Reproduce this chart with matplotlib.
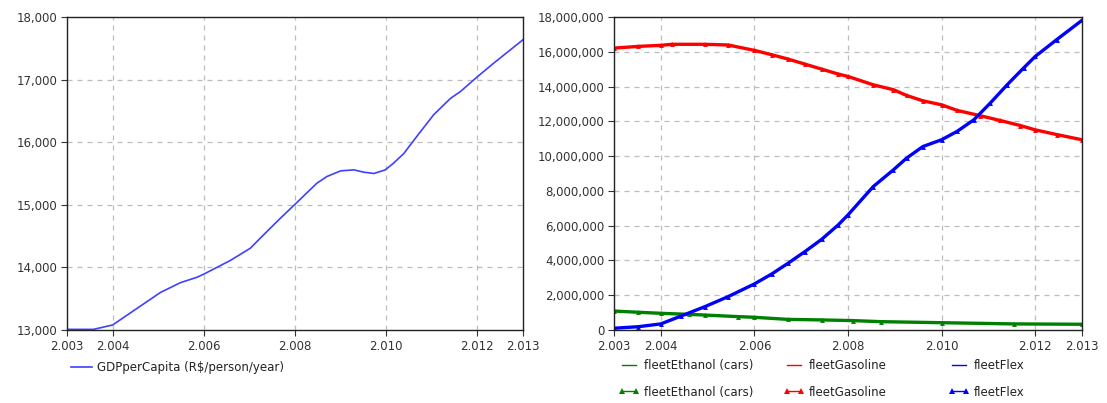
import matplotlib
matplotlib.use("Agg")
import matplotlib.pyplot as plt
from matplotlib.ticker import FuncFormatter
from matplotlib.lines import Line2D

# ---- data ----
gdp_years = [2003.0, 2003.58, 2004.0, 2005.05, 2005.49, 2005.85, 2006.01, 2006.58, 2007.02,
             2007.31, 2007.68, 2008.01, 2008.48, 2008.70, 2009.0, 2009.29, 2009.51, 2009.73,
             2009.98, 2010.16, 2010.38, 2010.71, 2011.04, 2011.41, 2011.63, 2011.99, 2012.36, 2013.0]
gdp_values = [13010, 13010, 13080, 13600, 13757, 13842, 13896, 14110, 14306,
              14519, 14786, 15015, 15345, 15452, 15542, 15558, 15521, 15500,
              15558, 15665, 15814, 16129, 16438, 16700, 16811, 17040, 17264, 17637]

gas_years = [2003.0, 2003.52, 2004.0, 2004.23, 2004.94, 2005.44, 2006.0, 2006.37, 2006.72,
             2007.08, 2007.44, 2007.79, 2008.0, 2008.54, 2008.97, 2009.25, 2009.6, 2010.0,
             2010.33, 2010.83, 2011.25, 2011.68, 2012.0, 2012.46, 2013.0]
gas_values = [16.21, 16.31, 16.37, 16.43, 16.43, 16.39, 16.08, 15.83, 15.58,
              15.29, 15.00, 14.72, 14.58, 14.10, 13.82, 13.49, 13.18, 12.95,
              12.63, 12.32, 12.05, 11.76, 11.51, 11.24, 10.94]

flex_years = [2003.0, 2003.52, 2004.0, 2004.44, 2004.94, 2005.44, 2006.0, 2006.37, 2006.72,
              2007.08, 2007.44, 2007.79, 2008.0, 2008.54, 2008.97, 2009.25, 2009.6, 2010.0,
              2010.33, 2010.69, 2011.04, 2011.4, 2011.75, 2012.0, 2012.46, 2013.0]
flex_values = [0.10, 0.19, 0.35, 0.81, 1.34, 1.92, 2.65, 3.22, 3.84,
               4.51, 5.22, 6.04, 6.62, 8.25, 9.21, 9.88, 10.55, 10.94,
               11.42, 12.09, 13.05, 14.10, 15.06, 15.73, 16.70, 17.81]

eth_years = [2003.0, 2003.52, 2004.0, 2004.6, 2004.94, 2005.65, 2006.0, 2006.72, 2007.44,
             2008.11, 2008.7, 2010.0, 2011.54, 2013.0]
eth_values = [1.09, 1.02, 0.96, 0.90, 0.86, 0.77, 0.73, 0.61, 0.58,
              0.54, 0.48, 0.42, 0.35, 0.33]

xticks = [2003, 2004, 2006, 2008, 2010, 2012, 2013]
xtick_labels = ['2.003', '2.004', '2.006', '2.008', '2.010', '2.012', '2.013']
gdp_yticks = [13000, 14000, 15000, 16000, 17000, 18000]
fleet_yticks = [0, 2, 4, 6, 8, 10, 12, 14, 16, 18]

plt.rcParams['font.family'] = ['DejaVu Sans']
FS = 8.5
TXT = '#333333'
GRID = '#bdbdbd'

fig = plt.figure(figsize=(11.07, 4.03), dpi=100)
W, H = 1107, 403
ax1 = fig.add_axes([67 / W, (H - 330) / H, (523 - 67) / W, (330 - 17) / H])
ax2 = fig.add_axes([614 / W, (H - 330) / H, (1082 - 614) / W, (330 - 17) / H])


def style(ax, yticks):
    ax.set_xlim(2003, 2013)
    ax.set_ylim(yticks[0], yticks[-1])
    ax.set_xticks(xticks)
    ax.set_xticklabels(xtick_labels)
    ax.set_yticks(yticks)
    ax.tick_params(labelsize=FS, labelcolor=TXT, length=4, width=0.8, color='#333333', pad=3)
    for s in ax.spines.values():
        s.set_color('#222222')
        s.set_linewidth(1.0)
    for x in xticks[1:-1]:
        ax.axvline(x, color=GRID, lw=0.9, ls=(0, (4, 4)), zorder=0)
    for y in yticks[1:-1]:
        ax.axhline(y, color=GRID, lw=0.9, ls=(0, (4, 4)), zorder=0)


style(ax1, gdp_yticks)
ax1.yaxis.set_major_formatter(FuncFormatter(lambda v, p: f"{v:,.0f}"))
gdp_line, = ax1.plot(gdp_years, gdp_values, color='#4040ff', lw=1.2)

style(ax2, fleet_yticks)
ax2.yaxis.set_major_formatter(FuncFormatter(lambda v, p: f"{v * 1e6:,.0f}"))

series = [
    ('fleetEthanol (cars)', eth_years, eth_values, '#008000'),
    ('fleetGasoline', gas_years, gas_values, '#ff0000'),
    ('fleetFlex', flex_years, flex_values, '#0000ff'),
]
for name, xs, ys, c in series:
    ax2.plot(xs, ys, color=c, lw=2.4, marker='^', ms=3.5, mew=0, solid_joinstyle='round')

fig.legend([gdp_line], ['GDPperCapita (R$/person/year)'], loc='center left',
           bbox_to_anchor=(71 / W, 1 - 368 / H), frameon=False, fontsize=FS,
           handlelength=1.8, handletextpad=0.4, borderpad=0, borderaxespad=0,
           labelcolor='#222222')

col_x = [618, 783, 948]
for (name, xs, ys, c), cx in zip(series, col_x):
    h1 = Line2D([], [], color=c, lw=1.0)
    h2 = Line2D([], [], color=c, lw=1.0, marker='^', ms=4, mew=0)
    fig.legend([h1, h2], [name, name], loc='upper left',
               bbox_to_anchor=(cx / W, 1 - 359 / H), frameon=False, fontsize=FS,
               handlelength=1.8, handletextpad=0.4, borderpad=0, borderaxespad=0,
               labelspacing=1.15, numpoints=2, labelcolor='#222222')

fig.savefig('out.png', dpi=100)
